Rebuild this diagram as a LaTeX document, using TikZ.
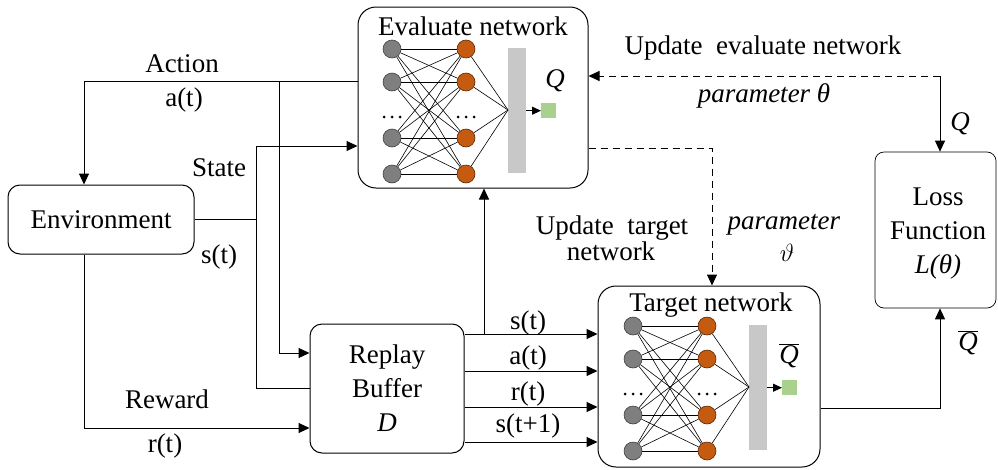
\documentclass[tikz,border=0pt]{standalone}
\usepackage{fontspec}
\setmainfont{Liberation Serif}
\usetikzlibrary{arrows.meta}
\definecolor{ngray}{HTML}{7F7F7F}
\definecolor{ngrayd}{HTML}{3F3F3F}
\definecolor{norange}{HTML}{C55A11}
\definecolor{norangd}{HTML}{5A2806}
\definecolor{bargray}{HTML}{C8C8C8}
\definecolor{outgreen}{HTML}{A9D18E}
\begin{document}
\begin{tikzpicture}[x=1pt,y=-1pt,
  every node/.style={font=\fontsize{27}{34}\selectfont},
  box/.style={draw, line width=1pt, rounded corners=12pt, inner sep=0pt},
  lbl/.style={anchor=base, inner sep=0pt},
  conn/.style={line width=1pt, -{Triangle[length=11pt,width=10pt]}},
  dconn/.style={line width=1pt, dash pattern=on 7pt off 5pt, -{Triangle[length=11pt,width=10pt]}},
  plain/.style={line width=1pt},
  smallarr/.style={line width=1pt, -{Triangle[length=9pt,width=8pt]}},
  gn/.style={circle, draw=ngrayd, fill=ngray, line width=0.6pt, minimum size=18pt, inner sep=0pt},
  on/.style={circle, draw=norangd, fill=norange, line width=0.6pt, minimum size=18pt, inner sep=0pt},
  syn/.style={line width=0.6pt},
  barbox/.style={fill=bargray, inner sep=0pt, minimum width=18pt, minimum height=125pt},
  outsq/.style={fill=outgreen, inner sep=0pt, minimum size=15pt}
]
\useasboundingbox (0,0) rectangle (998,469);

% ---------- boxes ----------
\node[box, rounded corners=18pt, minimum width=230pt, minimum height=181pt] (eval) at (473,97.5) {};
\node[box, rounded corners=18pt, minimum width=222pt, minimum height=181pt] (target) at (709,376.5) {};
\node[box, minimum width=186pt, minimum height=69pt] (env) at (101,219.5) {Environment};
\node[box, minimum width=154pt, minimum height=129pt, align=center] (replay) at (387,388.5) {Replay\\Buffer\\\textit{D}};
\node[box, line width=0.7pt, rounded corners=9pt, minimum width=121pt, minimum height=156pt] (loss) at (935.5,230) {};
\node[inner sep=0pt, align=center] (losstext) at (938,234) {Loss\\Function\\\textit{L(θ)}};

\node[lbl] (evaltitle) at (473,35) {Evaluate network};
\node[lbl] (targettitle) at (711,311) {Target network};

% ---------- neural networks ----------
\foreach \p/\x/\y in {e/392/49, t/633/326} {
  \foreach \i/\dy in {1/0,2/33,3/89,4/125} {
    \node[gn] (\p g\i) at (\x,\y+\dy) {};
    \node[on] (\p o\i) at (\x+74,\y+\dy) {};
  }
  \foreach \i in {1,...,4} {
    \foreach \j in {1,...,4} {
      \draw[syn] (\p g\i) -- (\p o\j);
    }
  }
  \foreach \k in {-8,0,8} {
    \fill (\x+\k,\y+68) circle (1.5pt);
    \fill (\x+74+\k,\y+68) circle (1.5pt);
  }
  \node[barbox, anchor=north west] (\p bar) at (\x+116,\y-1) {};
  \coordinate (\p conv) at (\x+116,\y+61);
  \foreach \i in {1,...,4} {
    \draw[syn] (\p o\i) -- (\p conv);
  }
  \node[outsq, anchor=north west] (\p out) at (\x+149,\y+54) {};
  \draw[smallarr] (\p bar.east |- \p out.west) -- (\p out.west);
}
\node[lbl] (qeval) at (555,87) {\textit{Q}};
\node[lbl] (qtarget) at (789,363) {$\overline{\mbox{\itshape Q}}$};

% ---------- connectors ----------
% Action
\coordinate (ajoin) at (279,81);
\draw[conn] (eval.west |- ajoin) -- (84,81) -- (env.north -| 84,0);
\draw[conn] (ajoin) -- (279,353) -- (replay.west |- 0,353);
\node[lbl] (actionlbl) at (182,72) {Action};
\node[lbl] (atlbl) at (184,106) {a(t)};

% State
\coordinate (sjoin) at (256,219.5);
\draw[plain] (env.east) -- (sjoin);
\draw[conn] (256,388.5) -- (256,146) -- (eval.west |- 0,146);
\draw[plain] (256,388.5) -- (replay.west);
\node[lbl] (statelbl) at (219,176) {State};
\node[lbl] (stlbl) at (219,263) {s(t)};

% Reward
\draw[conn] (env.south -| 84,0) -- (84,428) -- (replay.west |- 0,428);
\node[lbl] (rewardlbl) at (167,408) {Reward};
\node[lbl] (rtlbl) at (165,452) {r(t)};

% Replay buffer to target network
\draw[conn] (replay.east |- 0,334) -- (target.west |- 0,334);
\draw[conn] (replay.east |- 0,371) -- (target.west |- 0,371);
\draw[conn] (replay.east |- 0,407) -- (target.west |- 0,407);
\draw[conn] (replay.east |- 0,442) -- (target.west |- 0,442);
\node[lbl] (s1lbl) at (528,329) {s(t)};
\node[lbl] (a1lbl) at (528,364) {a(t)};
\node[lbl] (r1lbl) at (528,400) {r(t)};
\node[lbl] (s2lbl) at (528,432) {s(t+1)};

% Replay buffer to evaluate network
\draw[conn] (484,334) -- (eval.south -| 484,0);

% Update evaluate network
\coordinate (ucorner) at (940,76);
\draw[dconn] (ucorner) -- (eval.east |- ucorner);
\draw[conn] (ucorner) -- (loss.north -| ucorner);
\node[lbl] (updeval) at (763,54) {Update~~evaluate network};
\node[lbl] (partheta) at (764,102) {\textit{parameter θ}};
\node[lbl] (qloss) at (960,130) {\textit{Q}};

% Update target network
\coordinate (tcorner) at (712,148);
\draw[dconn] (eval.east |- tcorner) -- (tcorner) -- (target.north -| tcorner);
\node[lbl] (updtarget) at (612,234) {Update~~target};
\node[lbl] (updtarget2) at (611,260) {network};
\node[lbl] (parvt) at (784,229) {\textit{parameter}};
\node[lbl] (vartheta) at (787,261) {$\vartheta$};

% Target to loss
\coordinate (lcorner) at (940,408);
\draw[conn] (target.east |- lcorner) -- (lcorner) -- (loss.south -| lcorner);
\node[lbl] (qbarloss) at (968,350) {$\overline{\mbox{\itshape Q}}$};
\end{tikzpicture}
\end{document}
